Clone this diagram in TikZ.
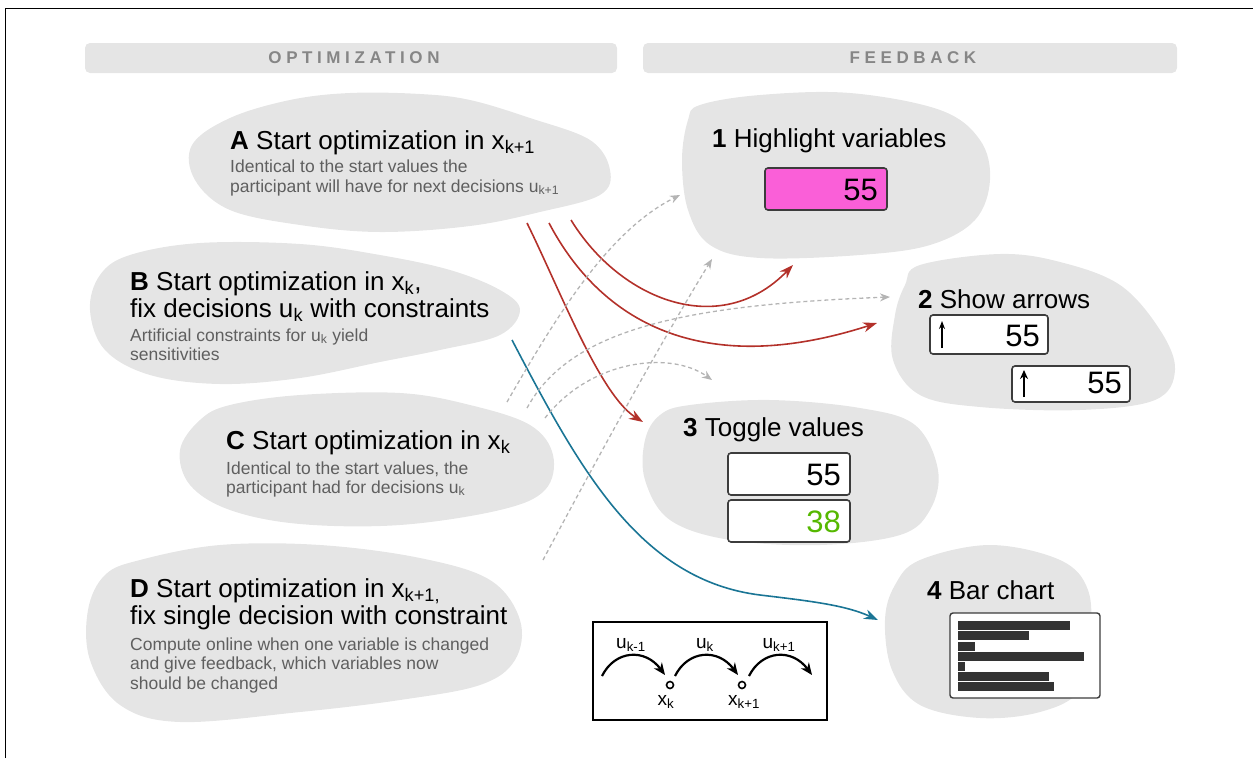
\documentclass[tikz,border=0pt]{standalone}
\usepackage{fontspec}
\setmainfont{Liberation Sans}
\usetikzlibrary{arrows.meta}
\definecolor{blobc}{HTML}{E5E5E5}
\definecolor{hdrtxt}{HTML}{868686}
\definecolor{subc}{HTML}{5F5F5F}
\definecolor{redc}{HTML}{B3312A}
\definecolor{bluec}{HTML}{1A7595}
\definecolor{dashc}{HTML}{B4B4B4}
\definecolor{pinkc}{HTML}{FA5FD8}
\definecolor{greenc}{HTML}{55B800}
\definecolor{barc}{HTML}{333333}
\definecolor{edgec}{HTML}{3C3C3C}
\newcommand{\sbs}[1]{\textsubscript{#1}}
\begin{document}
\begin{tikzpicture}[x=1pt,y=-1pt,
  blob/.style={fill=blobc},
  hdrbar/.style={fill=blobc, rounded corners=5pt},
  hdrtext/.style={text=hdrtxt, font=\fontsize{17}{17}\selectfont\bfseries\addfontfeatures{LetterSpace=27}},
  title/.style={anchor=base west, inner sep=0pt, font=\fontsize{26}{30}\selectfont},
  subtext/.style={anchor=base west, inner sep=0pt, text=subc, font=\fontsize{17.5}{20}\selectfont},
  valbox/.style={draw=edgec, line width=1.6pt, rounded corners=3pt, fill=white},
  valtext/.style={anchor=base east, inner sep=0pt, font=\fontsize{31}{31}\selectfont},
  redarrow/.style={draw=redc, line width=1.6pt, -{Stealth[length=14pt,width=10pt]}},
  bluearrow/.style={draw=bluec, line width=1.6pt, -{Stealth[length=14pt,width=10pt]}},
  grayarrow/.style={draw=dashc, line width=1.3pt, dash pattern=on 4pt off 3pt, -{Stealth[length=10pt,width=8pt]}},
  seqarrow/.style={draw=black, line width=2.2pt, -{Stealth[length=12pt,width=10pt]}},
  seqtext/.style={inner sep=0pt, font=\fontsize{19}{19}\selectfont}
]
\useasboundingbox (0,0) rectangle (1253,758);
% frame
\draw[line width=1.5pt] (5.5,758) -- (5.5,8.5) -- (1253,8.5);

% headers
\fill[hdrbar] (85,43) rectangle (617,73);
\fill[hdrbar] (643,43) rectangle (1177,73);
\node[hdrtext] (hopt) at (354,58) {OPTIMIZATION};
\node[hdrtext] (hfb) at (913,58) {FEEDBACK};

% blobs
\fill[blob] plot[smooth cycle, tension=0.6] coordinates {(230,118) (290,100) (350,93) (420,94) (470,100) (530,118) (590,140) (610,170) (600,195) (540,212) (470,226) (380,232) (300,225) (230,210) (195,180) (192,145)};
\fill[blob] plot[smooth cycle, tension=0.6] coordinates {(130,255) (200,243) (300,244) (380,255) (450,270) (500,290) (520,310) (500,335) (440,350) (380,362) (300,378) (220,384) (150,375) (105,350) (90,310) (100,275)};
\fill[blob] plot[smooth cycle, tension=0.6] coordinates {(230,405) (300,395) (400,393) (470,405) (530,425) (553,455) (545,490) (500,510) (400,525) (300,524) (230,510) (190,485) (180,450) (200,420)};
\fill[blob] plot[smooth cycle, tension=0.6] coordinates {(140,560) (220,545) (320,545) (420,558) (490,580) (520,620) (515,660) (480,685) (400,700) (300,712) (180,722) (120,705) (90,660) (88,610) (105,575)};
\fill[blob] plot[smooth cycle, tension=0.6] coordinates {(700,105) (760,95) (850,93) (940,110) (980,140) (990,180) (975,220) (930,245) (860,255) (760,258) (710,245) (688,210) (682,160) (688,120)};
\fill[blob] plot[smooth cycle, tension=0.6] coordinates {(920,265) (1000,254) (1060,262) (1120,285) (1160,330) (1175,370) (1155,400) (1080,410) (980,407) (920,395) (893,360) (895,315) (905,285)};
\fill[blob] plot[smooth cycle, tension=0.6] coordinates {(690,405) (770,400) (860,408) (915,425) (938,470) (930,510) (900,535) (820,545) (730,540) (670,520) (645,480) (645,440) (660,415)};
\fill[blob] plot[smooth cycle, tension=0.6] coordinates {(920,560) (990,545) (1060,560) (1088,590) (1090,640) (1080,690) (1040,712) (980,718) (920,705) (892,670) (885,620) (895,585)};

% optimization texts
\node[title] (ta) at (230,149) {\textbf{A} Start optimization in x\sbs{k+1}};
\node[subtext] (sa1) at (230,172) {Identical to the start values the};
\node[subtext] (sa2) at (230,192) {participant will have for next decisions u\sbs{k+1}};

\node[title] (tb1) at (130,290) {\textbf{B} Start optimization in x\sbs{k},};
\node[title] (tb2) at (130,317) {fix decisions u\sbs{k} with constraints};
\node[subtext] (sb1) at (130,341) {Artificial constraints for u\sbs{k} yield};
\node[subtext] (sb2) at (130,360) {sensitivities};

\node[title] (tc) at (226,449) {\textbf{C} Start optimization in x\sbs{k}};
\node[subtext] (sc1) at (226,474) {Identical to the start values, the};
\node[subtext] (sc2) at (226,493) {participant had for decisions u\sbs{k}};

\node[title] (td1) at (130,597) {\textbf{D} Start optimization in x\sbs{k+1,}};
\node[title] (td2) at (130,624) {fix single decision with constraint};
\node[subtext] (sd1) at (130,650) {Compute online when one variable is changed};
\node[subtext] (sd2) at (130,669) {and give feedback, which variables now};
\node[subtext] (sd3) at (130,689) {should be changed};

% feedback texts
\node[title] (f1) at (712,147) {\textbf{1} Highlight variables};
\draw[valbox, fill=pinkc] (765,168) rectangle (887,210);
\node[valtext] (v1) at (878,200) {55};

\node[title] (f2) at (918,308) {\textbf{2} Show arrows};
\draw[valbox] (930,315) rectangle (1048,354);
\node[valtext] (v2a) at (1040,346) {55};
\draw[valbox] (1012,366) rectangle (1130,402);
\node[valtext] (v2b) at (1122,393) {55};
\coordinate (ar1s) at (942,348); \coordinate (ar1e) at (942,321);
\draw[line width=1.2pt, -{Stealth[length=8pt,width=6pt]}] (ar1s) -- (ar1e);
\coordinate (ar2s) at (1024,397); \coordinate (ar2e) at (1024,370);
\draw[line width=2.6pt, -{Stealth[length=9pt,width=8pt]}] (ar2s) -- (ar2e);

\node[title] (f3) at (683,436) {\textbf{3} Toggle values};
\draw[valbox] (728,453) rectangle (850,495);
\node[valtext] (v3a) at (841,485) {55};
\draw[valbox] (728,500) rectangle (850,542);
\node[valtext, text=greenc] (v3b) at (841,532) {38};

\node[title] (f4) at (927,599) {\textbf{4} Bar chart};
\draw[valbox, line width=1.4pt] (950,613) rectangle (1100,698);
\foreach \y/\w in {621/112, 631/71, 642/17, 652/126, 662/7, 672/91, 682/96}
  \fill[barc] (958,\y) rectangle ++(\w,8.5);

% sequence diagram
\draw[line width=1.5pt] (593,622) rectangle (827,720);
\node[seqtext] (u1) at (631,645) {u\sbs{k-1}};
\node[seqtext] (u2) at (705,645) {u\sbs{k}};
\node[seqtext] (u3) at (779,645) {u\sbs{k+1}};
\node[draw, circle, line width=1.6pt, inner sep=0pt, minimum size=7pt, fill=white] (xk) at (670,685) {};
\node[draw, circle, line width=1.6pt, inner sep=0pt, minimum size=7pt, fill=white] (xk1) at (742,685) {};
\node[seqtext] (lxk) at (666,702) {x\sbs{k}};
\node[seqtext] (lxk1) at (744,702) {x\sbs{k+1}};
\coordinate (s0) at (602,676);
\coordinate (s1) at (675,676);
\coordinate (s2) at (749,676);
\draw[seqarrow] (s0) .. controls (615,650) and (645,648) .. (665,675);
\draw[seqarrow] (s1) .. controls (688,650) and (718,648) .. (738,675);
\draw[seqarrow] (s2) .. controls (762,650) and (792,648) .. (812,675);

% connectors
\coordinate (rA1) at (527,223);
\coordinate (rA2) at (549,223);
\coordinate (rA3) at (571,220);
\coordinate (eT3) at (643,422);
\coordinate (eT2) at (877,323);
\coordinate (eT1) at (793,265);
\draw[redarrow] (rA1) .. controls (560,290) and (600,395) .. (eT3);
\draw[redarrow] (rA2) .. controls (600,320) and (700,380) .. (eT2);
\draw[redarrow] (rA3) .. controls (620,300) and (720,340) .. (eT1);

\coordinate (bB) at (512,340);
\coordinate (eT4) at (878,620);
\draw[bluearrow] (bB) .. controls (580,470) and (640,580) .. (760,595) .. controls (810,601) and (845,605) .. (eT4);

\coordinate (g1s) at (507,402);
\coordinate (g2s) at (527,408);
\coordinate (g3s) at (545,418);
\coordinate (g4s) at (543,560);
\coordinate (g1e) at (680,195);
\coordinate (g2e) at (890,297);
\coordinate (g3e) at (712,380);
\coordinate (g4e) at (712,259);
\draw[grayarrow] (g1s) .. controls (560,310) and (610,230) .. (g1e);
\draw[grayarrow] (g2s) .. controls (570,330) and (680,305) .. (g2e);
\draw[grayarrow] (g3s) .. controls (590,360) and (670,350) .. (g3e);
\draw[grayarrow] (g4s) .. controls (575,500) and (650,360) .. (g4e);
\end{tikzpicture}
\end{document}
